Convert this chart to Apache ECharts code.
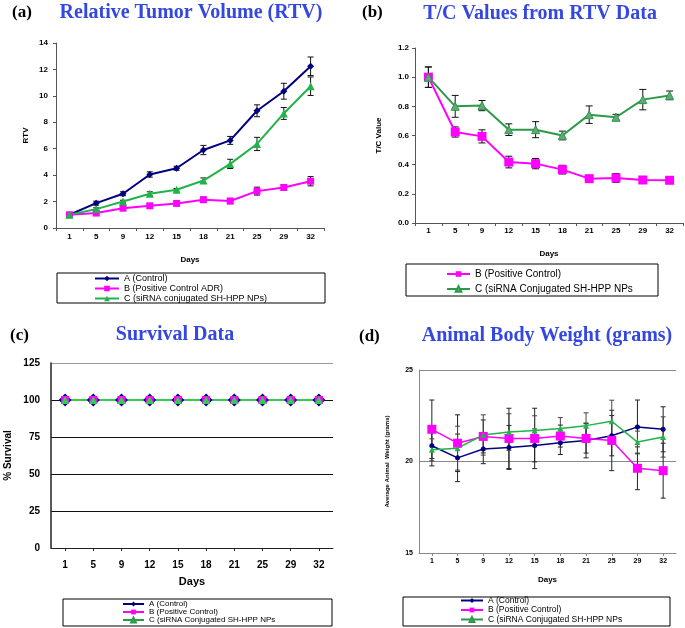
<!DOCTYPE html>
<html>
<head>
<meta charset="utf-8">
<script src="https://cdn.jsdelivr.net/npm/echarts@6/dist/echarts.min.js"></script>
<style>
  html, body { margin: 0; padding: 0; background: #fff; }
  #chart { width: 685px; height: 628px; }
</style>
</head>
<body>
<div id="chart"></div>
<script>
// x categories (days)
const days = ['1', '5', '9', '12', '15', '18', '21', '25', '29', '32'];

// (a) relative tumor volume
const rtvA = [1.0, 1.88, 2.59, 4.05, 4.52, 5.9, 6.63, 8.87, 10.35, 12.24];
const rtvAErr = [0.05, 0.15, 0.15, 0.2, 0.15, 0.35, 0.3, 0.45, 0.6, 0.7];
const rtvB = [1.0, 1.13, 1.5, 1.68, 1.86, 2.14, 2.04, 2.79, 3.07, 3.54];
const rtvBErr = [0.05, 0.1, 0.1, 0.1, 0.1, 0.2, 0.2, 0.3, 0.2, 0.35];
const rtvC = [1.0, 1.43, 2.0, 2.59, 2.89, 3.59, 4.85, 6.36, 8.67, 10.73];
const rtvCErr = [0.05, 0.1, 0.1, 0.15, 0.1, 0.2, 0.35, 0.5, 0.45, 0.7];

// (b) T/C values
const tcB = [1.0, 0.624, 0.594, 0.418, 0.407, 0.366, 0.304, 0.309, 0.295, 0.293];
const tcBErr = [0.07, 0.035, 0.045, 0.04, 0.035, 0.03, 0.015, 0.03, 0.015, 0.015];
const tcC = [1.0, 0.8, 0.805, 0.64, 0.64, 0.6, 0.743, 0.725, 0.846, 0.875];
const tcCErr = [0.07, 0.075, 0.035, 0.04, 0.055, 0.03, 0.06, 0.02, 0.07, 0.03];

// (c) survival
const survA = [100, 100, 100, 100, 100, 100, 100, 100, 100, 100];
const survB = [100, 100, 100, 100, 100, 100, 100, 100, 100, 100];
const survC = [100, 100, 100, 100, 100, 100, 100, 100, 100, 100];

// (d) body weight
const bwA = [20.86, 20.2, 20.68, 20.77, 20.88, 21.03, 21.15, 21.41, 21.89, 21.76];
const bwAErr = [1.1, 1.3, 0.8, 1.2, 0.9, 0.65, 0.95, 1.1, 1.47, 1.23];
const bwB = [21.76, 21.0, 21.37, 21.26, 21.26, 21.39, 21.26, 21.15, 19.63, 19.5];
const bwBErr = [1.6, 1.55, 0.9, 1.65, 1.65, 0.6, 0.8, 1.65, 1.17, 1.5];
const bwC = [20.64, 20.73, 21.45, 21.61, 21.7, 21.8, 21.96, 22.2, 21.06, 21.34];
const bwCErr = [0.6, 1.2, 1.1, 1.0, 0.8, 0.6, 0.7, 1.15, 0.6, 1.1];

const NAVY = '#000080';
const MAGENTA = '#ff00ff';
const GREEN = '#22b24a';
const TITLE_BLUE = '#3447e0';
const SANS = 'Liberation Sans';
const SERIF = 'Liberation Serif';

const chart = echarts.init(document.getElementById('chart'));

// vertical error bars drawn through the axis scale
function errBars(idx, vals, errs, color, cap) {
  return {
    type: 'custom',
    xAxisIndex: idx,
    yAxisIndex: idx,
    silent: true,
    z: 1,
    encode: { x: 0, y: [1, 2] },
    data: vals.map((v, i) => [i, v - errs[i], v + errs[i]]),
    renderItem: (params, api) => {
      const i = api.value(0);
      const lo = api.coord([i, api.value(1)]);
      const hi = api.coord([i, api.value(2)]);
      const w = cap / 2;
      const st = { stroke: color, lineWidth: 1 };
      return {
        type: 'group',
        children: [
          { type: 'line', shape: { x1: lo[0], y1: lo[1], x2: hi[0], y2: hi[1] }, style: st },
          { type: 'line', shape: { x1: lo[0] - w, y1: lo[1], x2: lo[0] + w, y2: lo[1] }, style: st },
          { type: 'line', shape: { x1: hi[0] - w, y1: hi[1], x2: hi[0] + w, y2: hi[1] }, style: st }
        ]
      };
    }
  };
}

function line(idx, name, data, color, symbol, size, width, extra) {
  return Object.assign({
    type: 'line',
    name: name,
    xAxisIndex: idx,
    yAxisIndex: idx,
    data: data,
    symbol: symbol,
    symbolSize: size,
    z: 3,
    lineStyle: { color: color, width: width },
    itemStyle: { color: color },
    emphasis: { disabled: true }
  }, extra || {});
}

function xAxis(idx, labelSize, margin, nameGap, axisColor, align) {
  return {
    type: 'category',
    gridIndex: idx,
    data: days,
    name: 'Days',
    nameLocation: 'middle',
    nameGap: nameGap,
    nameTextStyle: { fontFamily: SANS, fontWeight: 'bold', fontSize: idx === 2 ? 11 : 8, color: '#000' },
    axisLine: { lineStyle: { color: axisColor, width: 1 } },
    axisTick: { show: true, alignWithLabel: align, length: 3, lineStyle: { color: axisColor } },
    axisLabel: { fontFamily: SANS, fontWeight: 'bold', fontSize: labelSize, color: '#000', margin: margin, interval: 0 }
  };
}

const legendText = (size) => ({ fontFamily: SANS, fontSize: size, color: '#000' });

const option = {
  animation: false,
  backgroundColor: '#fff',
  grid: [
    { left: 56, top: 43, width: 268, height: 185 },
    { left: 415, top: 48, width: 268, height: 175 },
    { left: 51, top: 363, width: 282, height: 185 },
    { left: 419, top: 370, width: 257, height: 183 }
  ],
  xAxis: [
    xAxis(0, 8, 5, 28, '#555', false),
    xAxis(1, 8, 4, 27, '#555', false),
    xAxis(2, 10, 12, 28, '#222', true),
    xAxis(3, 7, 5, 23, '#888', true)
  ],
  yAxis: [
    {
      type: 'value', gridIndex: 0, min: 0, max: 14, interval: 2,
      name: 'RTV', nameLocation: 'middle', nameGap: 26,
      nameTextStyle: { fontFamily: SANS, fontWeight: 'bold', fontSize: 8, color: '#000' },
      axisLine: { show: true, lineStyle: { color: '#555' } },
      axisTick: { show: true, length: 3, lineStyle: { color: '#555' } },
      splitLine: { show: false },
      axisLabel: { fontFamily: SANS, fontWeight: 'bold', fontSize: 8, color: '#000', margin: 8 }
    },
    {
      type: 'value', gridIndex: 1, min: 0, max: 1.2, interval: 0.2,
      name: 'T/C Value', nameLocation: 'middle', nameGap: 32,
      nameTextStyle: { fontFamily: SANS, fontWeight: 'bold', fontSize: 8, color: '#000' },
      axisLine: { show: true, lineStyle: { color: '#555' } },
      axisTick: { show: true, length: 3, lineStyle: { color: '#555' } },
      splitLine: { show: false },
      axisLabel: { fontFamily: SANS, fontWeight: 'bold', fontSize: 8, color: '#000', margin: 6,
        formatter: v => v.toFixed(1) }
    },
    {
      type: 'value', gridIndex: 2, min: 0, max: 125, interval: 25,
      name: '% Survival', nameLocation: 'middle', nameGap: 38,
      nameTextStyle: { fontFamily: SANS, fontWeight: 'bold', fontSize: 10, color: '#000' },
      axisLine: { show: true, lineStyle: { color: '#222', width: 1.5 } },
      axisTick: { show: false },
      splitLine: { show: true, lineStyle: { color: ['#111', '#111', '#111', '#111', '#111', '#999'], width: 1 } },
      axisLabel: { fontFamily: SANS, fontWeight: 'bold', fontSize: 10, color: '#000', margin: 11 }
    },
    {
      type: 'value', gridIndex: 3, min: 15, max: 25, interval: 5,
      name: 'Average Animal  Weight (grams)', nameLocation: 'middle', nameGap: 29,
      nameTextStyle: { fontFamily: SANS, fontWeight: 'bold', fontSize: 6, color: '#000' },
      axisLine: { show: true, lineStyle: { color: '#888' } },
      axisTick: { show: false },
      splitLine: { show: true, lineStyle: { color: '#888', width: 1 } },
      axisLabel: { fontFamily: SANS, fontWeight: 'bold', fontSize: 7, color: '#000', margin: 6 }
    }
  ],
  legend: [
    {
      left: 94, top: 274, height: 60, orient: 'vertical', padding: 0, itemWidth: 24, itemHeight: 7, itemGap: 1,
      selectedMode: false, textStyle: legendText(9),
      data: ['A (Control)', 'B (Positive Control ADR)', 'C (siRNA conjugated SH-HPP NPs)']
    },
    {
      left: 446, top: 269, height: 60, orient: 'vertical', padding: 0, itemWidth: 23, itemHeight: 7, itemGap: 5,
      selectedMode: false, textStyle: legendText(10),
      data: ['B (Positive Control)', 'C (siRNA Conjugated SH-HPP NPs']
    },
    {
      left: 122, top: 600, height: 60, orient: 'vertical', padding: 0, itemWidth: 21, itemHeight: 6, itemGap: 0,
      selectedMode: false, textStyle: legendText(8),
      data: ['A (Control)', 'B (Positive Control)', 'C (siRNA Conjugated SH-HPP NPs']
    },
    {
      left: 460, top: 596, height: 60, orient: 'vertical', padding: 0, itemWidth: 22, itemHeight: 6, itemGap: 0.5,
      selectedMode: false, textStyle: legendText(8.5),
      data: ['A (Control)', 'B (Positive Control)', 'C (siRNA Conjugated SH-HPP NPs']
    }
  ],
  graphic: [
    // legend frames
    { type: 'rect', shape: { x: 57, y: 273, width: 268, height: 30 }, style: { fill: 'none', stroke: '#000', lineWidth: 1 }, silent: true },
    { type: 'rect', shape: { x: 406, y: 264, width: 252, height: 32 }, style: { fill: 'none', stroke: '#000', lineWidth: 1 }, silent: true },
    { type: 'rect', shape: { x: 63, y: 599, width: 269, height: 27 }, style: { fill: 'none', stroke: '#000', lineWidth: 1 }, silent: true },
    { type: 'rect', shape: { x: 403, y: 597, width: 267, height: 29 }, style: { fill: 'none', stroke: '#000', lineWidth: 1 }, silent: true },
    // panel letters and titles
    { type: 'text', x: 12, y: 13, style: { text: '(a)', font: 'bold 17px ' + SERIF, fill: '#000', textVerticalAlign: 'middle' } },
    { type: 'text', x: 191, y: 13, style: { text: 'Relative Tumor Volume (RTV)', font: 'bold 20px ' + SERIF, fill: TITLE_BLUE, textAlign: 'center', textVerticalAlign: 'middle' } },
    { type: 'text', x: 362, y: 13, style: { text: '(b)', font: 'bold 17px ' + SERIF, fill: '#000', textVerticalAlign: 'middle' } },
    { type: 'text', x: 540, y: 14, style: { text: 'T/C Values from RTV Data', font: 'bold 20px ' + SERIF, fill: TITLE_BLUE, textAlign: 'center', textVerticalAlign: 'middle' } },
    { type: 'text', x: 10, y: 336, style: { text: '(c)', font: 'bold 17px ' + SERIF, fill: '#000', textVerticalAlign: 'middle' } },
    { type: 'text', x: 175, y: 335, style: { text: 'Survival Data', font: 'bold 20px ' + SERIF, fill: TITLE_BLUE, textAlign: 'center', textVerticalAlign: 'middle' } },
    { type: 'text', x: 359, y: 337, style: { text: '(d)', font: 'bold 17px ' + SERIF, fill: '#000', textVerticalAlign: 'middle' } },
    { type: 'text', x: 547, y: 336, style: { text: 'Animal Body Weight (grams)', font: 'bold 20px ' + SERIF, fill: TITLE_BLUE, textAlign: 'center', textVerticalAlign: 'middle' } }
  ],
  series: [
    // (a)
    errBars(0, rtvA, rtvAErr, '#111', 6),
    errBars(0, rtvB, rtvBErr, '#111', 6),
    errBars(0, rtvC, rtvCErr, '#111', 6),
    line(0, 'A (Control)', rtvA, NAVY, 'diamond', 7, 2),
    line(0, 'B (Positive Control ADR)', rtvB, MAGENTA, 'rect', 7, 2),
    line(0, 'C (siRNA conjugated SH-HPP NPs)', rtvC, GREEN, 'triangle', 8, 2),
    // (b)
    errBars(1, tcB, tcBErr, '#111', 7),
    errBars(1, tcC, tcCErr, '#111', 7),
    line(1, 'B (Positive Control)', tcB, MAGENTA, 'rect', 9, 2),
    line(1, 'C (siRNA Conjugated SH-HPP NPs', tcC, '#2a9a48', 'triangle', 8, 2,
      { itemStyle: { color: '#6aa57a', borderColor: '#2a9a48', borderWidth: 1 } }),
    // (c)
    line(2, 'A (Control)', survA, NAVY, 'diamond', 13, 2),
    line(2, 'B (Positive Control)', survB, MAGENTA, 'rect', 8, 2),
    line(2, 'C (siRNA Conjugated SH-HPP NPs', survC, '#33cc55', 'triangle', 8, 2),
    // (d)
    errBars(3, bwA, bwAErr, '#222', 5),
    errBars(3, bwB, bwBErr, '#222', 5),
    errBars(3, bwC, bwCErr, '#444', 5),
    line(3, 'A (Control)', bwA, NAVY, 'circle', 5, 1.5),
    line(3, 'B (Positive Control)', bwB, MAGENTA, 'rect', 9, 1.5),
    line(3, 'C (siRNA Conjugated SH-HPP NPs', bwC, GREEN, 'triangle', 6, 1.5)
  ]
};

chart.setOption(option);
window.addEventListener('resize', () => chart.resize());
</script>
</body>
</html>
